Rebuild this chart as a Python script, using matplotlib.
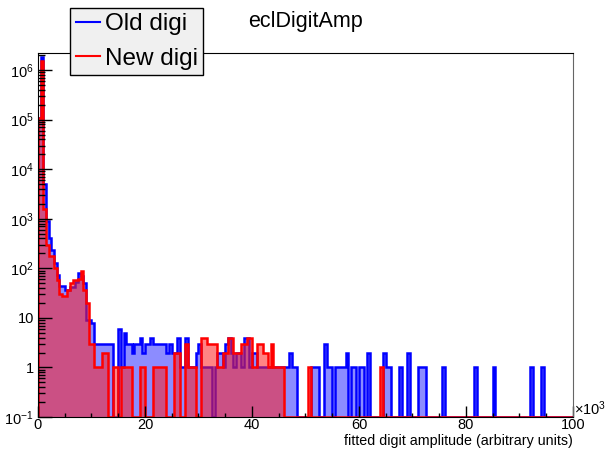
import numpy as np
import matplotlib
matplotlib.use("Agg")
import matplotlib.pyplot as plt
from matplotlib.lines import Line2D
from matplotlib.ticker import FixedLocator, FuncFormatter, LogLocator, NullFormatter

plt.rcParams['font.family'] = ['Liberation Sans', 'DejaVu Sans']
plt.rcParams['mathtext.default'] = 'regular'

# 200 bins of 0.5 (x10^3) from 0 to 100
edges = np.linspace(0, 100, 201)

old_digi = [
    110000, 1800000, 5000, 900, 400, 230, 130, 72, 45, 43,
    37, 37, 42, 42, 52, 80, 70, 50, 9, 9,
    8, 3, 3, 3, 3, 3, 3, 3, 0, 0,
    6, 1, 5, 3, 3, 2, 3, 3, 4, 2,
    3, 3, 4, 3, 3, 3, 3, 3, 2, 3,
    2, 2, 4, 1, 1, 4, 1, 1, 1, 2,
    3, 1, 1, 1, 1, 0, 1, 2, 2, 1,
    3, 4, 2, 1, 2, 2, 1, 4, 4, 1,
    2, 2, 1, 1, 1, 1, 1, 1, 1, 1,
    1, 1, 1, 1, 2, 1, 1, 0, 0, 0,
    0, 0, 1, 1, 1, 0, 0, 3, 1, 1,
    0, 1, 1, 1, 1, 2, 0, 1, 1, 0,
    1, 1, 0, 2, 0, 0, 0, 0, 0, 2,
    1, 1, 0, 0, 0, 1, 0, 0, 2, 0,
    0, 0, 1, 1, 1, 0, 0, 0, 0, 0,
    0, 1, 0, 0, 0, 0, 0, 0, 0, 0,
    0, 0, 0, 1, 0, 0, 0, 0, 0, 0,
    1, 0, 0, 0, 0, 0, 0, 0, 0, 0,
    0, 0, 0, 0, 1, 0, 0, 0, 1, 0,
    0, 0, 0, 0, 0, 0, 0, 0, 0, 0,
]

new_digi = [
    110000, 1500000, 1600, 300, 180, 180, 100, 57, 30, 28,
    28, 36, 50, 57, 57, 60, 90, 36, 20, 3,
    3, 1, 1, 1, 2, 2, 0, 0, 1, 1,
    0, 1, 1, 1, 1, 0, 0, 0, 1, 1,
    0, 0, 0, 1, 1, 1, 1, 1, 0, 0,
    0, 2, 2, 0, 0, 3, 1, 1, 1, 0,
    0, 4, 4, 3, 3, 3, 3, 1, 1, 2,
    2, 4, 4, 2, 2, 2, 3, 3, 4, 4,
    1, 1, 3, 3, 2, 2, 1, 3, 1, 1,
    1, 1, 0, 0, 0, 0, 0, 0, 0, 0,
    0, 1, 0, 0, 0, 0, 0, 0, 0, 0,
    0, 0, 0, 0, 0, 0, 0, 0, 0, 0,
    0, 0, 0, 0, 0, 0, 0, 0, 1, 0,
] + [0] * 70

ymin, ymax = 0.1, 2.2e6

fig = plt.figure(figsize=(6.05, 4.5), dpi=100)
ax = fig.add_axes([0.0628, 0.0733, 0.8843, 0.8087])

old = np.array(old_digi, dtype=float)
new = np.array(new_digi, dtype=float)
# empty bins sit on the bottom of the frame like in ROOT
old_p = np.where(old > 0, old, ymin)
new_p = np.where(new > 0, new, ymin)

ax.stairs(old_p, edges, baseline=ymin, fill=True, color='#8c8cff', lw=0)
ax.stairs(old_p, edges, baseline=ymin, color='#0000ff', lw=1.8)
ax.stairs(new_p, edges, baseline=ymin, fill=True, color='#ff2020', alpha=0.55, lw=0)
ax.stairs(new_p, edges, baseline=ymin, color='#ff0000', lw=1.8)

ax.set_yscale('log')
ax.set_xlim(0, 100)
ax.set_ylim(ymin, ymax)


def yfmt(v, pos):
    e = int(round(np.log10(v)))
    if e == 0:
        return '1'
    if e == 1:
        return '10'
    return r'$10^{%d}$' % e


ax.yaxis.set_major_locator(FixedLocator([10.0 ** e for e in range(-1, 7)]))
ax.yaxis.set_major_formatter(FuncFormatter(yfmt))
ax.yaxis.set_minor_locator(LogLocator(base=10, subs=np.arange(2, 10), numticks=20))
ax.yaxis.set_minor_formatter(NullFormatter())

ax.xaxis.set_major_locator(FixedLocator([0, 20, 40, 60, 80, 100]))
ax.xaxis.set_minor_locator(FixedLocator(np.arange(0, 101, 5)))

ax.tick_params(axis='both', which='both', direction='in', top=False, right=False,
               labelsize=10.5, width=1, color='black')
ax.tick_params(axis='y', which='major', length=10, pad=3)
ax.tick_params(axis='y', which='minor', length=5)
ax.tick_params(axis='x', which='major', length=8, pad=1)
ax.tick_params(axis='x', which='minor', length=3)

for s in ['left', 'bottom', 'top']:
    ax.spines[s].set_color('black')
ax.spines['right'].set_color('#666666')

fig.text(0.949, 0.072, r'$\times10^{3}$', ha='left', va='bottom', fontsize=10.5)
fig.text(0.947, 0.004, 'fitted digit amplitude (arbitrary units)', ha='right',
         va='bottom', fontsize=10.3)
fig.text(0.505, 0.952, 'eclDigitAmp', ha='center', va='center', fontsize=15.5)

handles = [Line2D([], [], color='#0000ff', lw=1.5), Line2D([], [], color='#ff0000', lw=1.5)]
leg = fig.legend(handles, ['Old digi', 'New digi'], loc='upper left',
                 bbox_to_anchor=(0.116, 0.982), fontsize=17.5, frameon=True,
                 fancybox=False, edgecolor='black', facecolor='#f0f0f0', framealpha=1,
                 borderaxespad=0, borderpad=0.22, handlelength=1.0, handletextpad=0.2,
                 labelspacing=0.5)
leg.get_frame().set_linewidth(1)

fig.savefig('out.png', dpi=100)
